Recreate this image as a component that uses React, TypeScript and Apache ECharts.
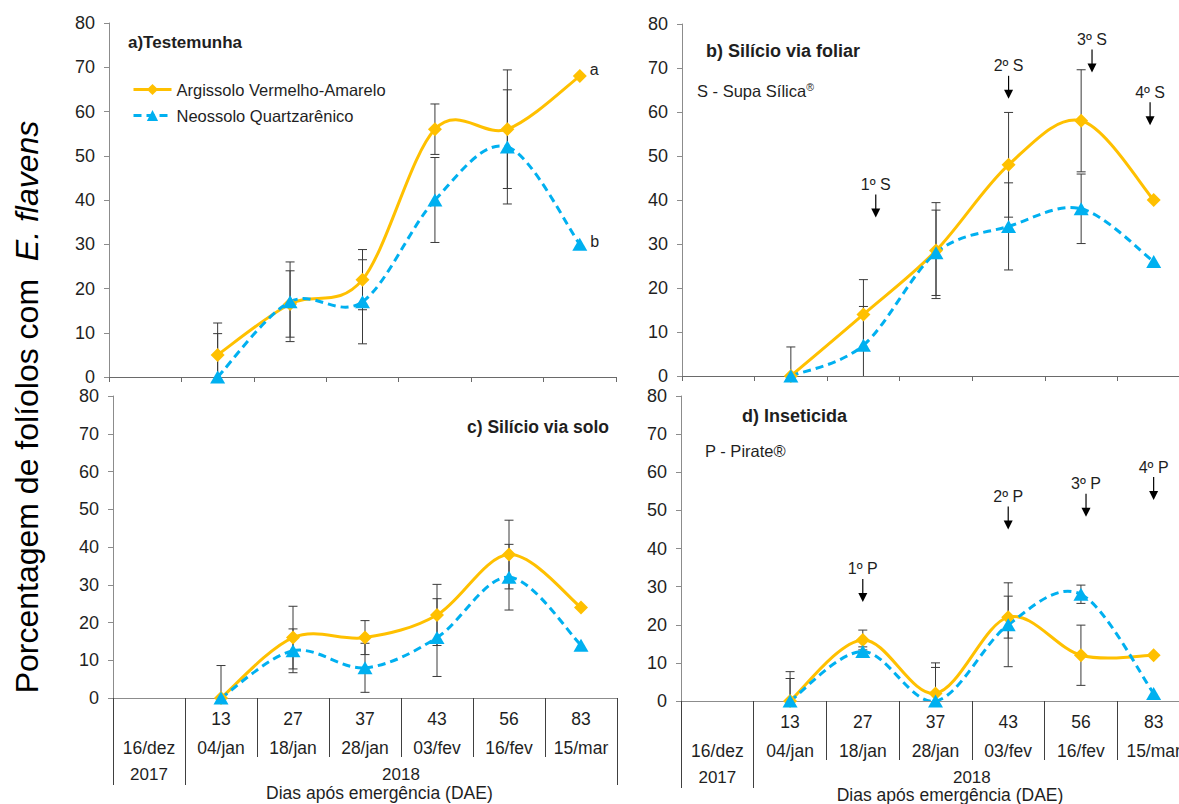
import React, { useEffect, useRef } from 'react';
import * as echarts from 'echarts';

// ---------- data ----------
const dates = ['16/dez', '04/jan', '18/jan', '28/jan', '03/fev', '16/fev', '15/mar'];
const daeLabels = ['', '13', '27', '37', '43', '56', '83'];
const yearLabels = ['2017', '2018'];
const seriesNames = ['Argissolo Vermelho-Amarelo', 'Neossolo Quartzarênico'];
const panelTitles = ['a)Testemunha', 'b) Silício via foliar', 'c) Silício via solo', 'd) Inseticida'];
const xAxisTitle = 'Dias após emergência (DAE)';
const endLetters = ['a', 'b'];

// panel a – Testemunha
const aArgissolo = [null, 5, 16.5, 22, 56, 56, 68];
const aArgissoloErr = [null, 7.2, 7.5, 6.8, 5.7, 13.4, null];
const aNeossolo = [null, 0, 17, 17, 40, 52, 30];
const aNeossoloErr = [null, 9.8, 9, 9.5, 9.6, 12.9, null];

// panel b – Silício via foliar
const bArgissolo = [null, 0, 14, 28.5, 48, 58, 40];
const bArgissoloErr = [null, 6.6, 7.9, 10.9, 11.9, 11.6, null];
const bNeossolo = [null, 0, 7, 28, 34, 38, 26];
const bNeossoloErr = [null, 0, 8.8, 9.7, 9.9, 7.9, null];

// panel c – Silício via solo
const cArgissolo = [null, 0, 16, 16, 22, 38, 24];
const cArgissoloErr = [null, 8.6, 8.3, 4.5, 8.1, 9.1, null];
const cNeossolo = [null, 0, 12.5, 8, 16, 32, 14];
const cNeossoloErr = [null, 0, 5.8, 6.5, 10.3, 8.7, null];

// panel d – Inseticida
const dArgissolo = [null, 0, 16, 2, 22, 12, 12];
const dArgissoloErr = [null, 7.7, 2.6, 8, 5.5, 7.9, null];
const dNeossolo = [null, 0, 13, 0, 20, 28, 2];
const dNeossoloErr = [null, 5.9, 1.2, 8.8, 11, 2.4, null];

// applications (arrows)
const bApplications = ['1º S', '2º S', '3º S', '4º S'];
const bApplicationAt = [2.17, 4, 5.15, 5.95];
const bApplicationTip = [36, 63, 69, 57];
const dApplications = ['1º P', '2º P', '3º P', '4º P'];
const dApplicationAt = [2, 4, 5.07, 6];
const dApplicationTip = [26, 45, 48.3, 52.7];

// ---------- style ----------
const FONT = 'Liberation Sans, Arial, Helvetica, sans-serif';
const ORANGE = '#FFC000';
const BLUE = '#00B0F0';
const AXIS_GRAY = '#8c8c8c';
const TEXT = '#1f1f1f';

const panels = [
  { ar: aArgissolo, arE: aArgissoloErr, ne: aNeossolo, neE: aNeossoloErr },
  { ar: bArgissolo, arE: bArgissoloErr, ne: bNeossolo, neE: bNeossoloErr },
  { ar: cArgissolo, arE: cArgissoloErr, ne: cNeossolo, neE: cNeossoloErr },
  { ar: dArgissolo, arE: dArgissoloErr, ne: dNeossolo, neE: dNeossoloErr },
];
const mainXAxis = [0, 1, 2, 4];

function curveSeries(values: (number | null)[], xi: number, yi: number, color: string, dashed: boolean) {
  const pts = values.map((v, i) => (v == null ? null : [i, v])).filter(Boolean) as number[][];
  return {
    type: 'custom',
    xAxisIndex: xi,
    yAxisIndex: yi,
    clip: true,
    silent: true,
    z: 2,
    data: pts,
    renderItem: (params: any, api: any) => {
      const i = params.dataIndex;
      const n = pts.length;
      if (i >= n - 1) return { type: 'group', children: [] };
      const P = (k: number) => api.coord(pts[Math.max(0, Math.min(n - 1, k))]);
      const p0 = P(i - 1), p1 = P(i), p2 = P(i + 1), p3 = P(i + 2);
      return {
        type: 'bezierCurve',
        shape: {
          x1: p1[0], y1: p1[1], x2: p2[0], y2: p2[1],
          cpx1: p1[0] + (p2[0] - p0[0]) / 6, cpy1: p1[1] + (p2[1] - p0[1]) / 6,
          cpx2: p2[0] - (p3[0] - p1[0]) / 6, cpy2: p2[1] - (p3[1] - p1[1]) / 6,
        },
        style: { stroke: color, lineWidth: 3, fill: 'none', lineDash: dashed ? [8, 5] : null },
      };
    },
  };
}

function errorSeries(values: (number | null)[], errs: (number | null)[], xi: number, yi: number) {
  const data = values
    .map((v, i) => (v == null || errs[i] == null || errs[i] === 0 ? null : [i, v, errs[i]]))
    .filter(Boolean) as number[][];
  return {
    type: 'custom',
    xAxisIndex: xi,
    yAxisIndex: yi,
    clip: true,
    silent: true,
    z: 1,
    data,
    renderItem: (params: any, api: any) => {
      const x = api.value(0), v = api.value(1), e = api.value(2);
      const top = api.coord([x, v + e]);
      const low = v - e;
      const bot = api.coord([x, Math.max(low, 0)]);
      const w = 4.5;
      const st = { stroke: '#3a3a3a', lineWidth: 1 };
      const children: any[] = [
        { type: 'line', shape: { x1: top[0], y1: top[1], x2: bot[0], y2: bot[1] }, style: st },
        { type: 'line', shape: { x1: top[0] - w, y1: top[1], x2: top[0] + w, y2: top[1] }, style: st },
      ];
      if (low >= 0) {
        children.push({ type: 'line', shape: { x1: bot[0] - w, y1: bot[1], x2: bot[0] + w, y2: bot[1] }, style: st });
      }
      return { type: 'group', children };
    },
  };
}

function markerSeries(values: (number | null)[], xi: number, yi: number, which: number, withLetter: boolean) {
  const color = which === 0 ? ORANGE : BLUE;
  const data = values.map((v, i) => {
    if (withLetter && i === values.length - 1) {
      return {
        value: v,
        label: {
          show: true, formatter: endLetters[which], position: 'right', distance: 3,
          offset: [0, which === 0 ? -7 : -3], fontSize: 16, color: TEXT, fontFamily: FONT,
        },
      };
    }
    return v;
  });
  return {
    type: 'line',
    name: seriesNames[which],
    xAxisIndex: xi,
    yAxisIndex: yi,
    data,
    symbol: which === 0 ? 'diamond' : 'triangle',
    symbolSize: which === 0 ? 14 : [15, 13],
    showSymbol: true,
    showAllSymbol: true,
    silent: true,
    z: 3,
    itemStyle: { color },
    lineStyle: { color, width: 3, opacity: 0, type: which === 0 ? 'solid' : [8, 5] },
  };
}

const App: React.FC = () => {
  const ref = useRef<HTMLDivElement>(null);

  useEffect(() => {
    if (!ref.current) return;
    const chart = echarts.init(ref.current, undefined, { renderer: 'svg' });

    const grids = [
      { left: 109, top: 23, width: 507, height: 354 },
      { left: 682, top: 24, width: 508, height: 352 },
      { left: 113, top: 396, width: 504, height: 302 },
      { left: 681, top: 396, width: 509, height: 305 },
    ];

    const topX = (gi: number) => ({
      type: 'category', gridIndex: gi, data: dates, boundaryGap: true, position: 'bottom',
      axisLine: { lineStyle: { color: '#6a6a6a', width: 1 } },
      axisTick: { show: true, length: 5, lineStyle: { color: '#6a6a6a' } },
      axisLabel: { show: false },
      splitLine: { show: false },
    });
    const tableX = (gi: number) => ({
      type: 'category', gridIndex: gi, data: dates, boundaryGap: true, position: 'bottom',
      axisLine: { lineStyle: { color: AXIS_GRAY, width: 1 } },
      axisTick: { show: true, length: 59, lineStyle: { color: '#404040', width: 1 } },
      axisLabel: {
        show: true, interval: 0, margin: 6, hideOverlap: false,
        formatter: (value: string, index: number) => `{d|${daeLabels[index] || ' '}}\n{t|${value}}`,
        rich: {
          d: { fontSize: 17.5, lineHeight: 29, color: TEXT, fontFamily: FONT },
          t: { fontSize: 17.5, lineHeight: 29, color: TEXT, fontFamily: FONT },
        },
      },
      splitLine: { show: false },
    });
    const yearX = (gi: number) => ({
      type: 'category', gridIndex: gi, data: dates, boundaryGap: true, position: 'bottom', offset: 0,
      axisLine: { show: false },
      axisTick: { show: true, length: 87, interval: (index: number) => index <= 1, lineStyle: { color: '#404040', width: 1 } },
      axisLabel: { show: false },
      splitLine: { show: false },
    });

    const yAxes = [0, 1, 2, 3].map((gi) => ({
      type: 'value', gridIndex: gi, min: 0, max: 80, interval: 10,
      axisLine: { show: true, lineStyle: { color: AXIS_GRAY, width: 1 } },
      axisTick: { show: true, length: 5, lineStyle: { color: AXIS_GRAY } },
      axisLabel: { fontSize: 18, color: TEXT, fontFamily: FONT, margin: 14 },
      splitLine: { show: false },
    }));

    const series: any[] = [];
    panels.forEach((p, pi) => {
      const xi = mainXAxis[pi];
      series.push(errorSeries(p.ar, p.arE, xi, pi));
      series.push(errorSeries(p.ne, p.neE, xi, pi));
      series.push(curveSeries(p.ar, xi, pi, ORANGE, false));
      series.push(curveSeries(p.ne, xi, pi, BLUE, true));
      series.push(markerSeries(p.ar, xi, pi, 0, pi === 0));
      series.push(markerSeries(p.ne, xi, pi, 1, pi === 0));
    });

    const option: any = {
      animation: false,
      backgroundColor: '#ffffff',
      textStyle: { fontFamily: FONT },
      grid: grids,
      xAxis: [topX(0), topX(1), tableX(2), yearX(2), tableX(3), yearX(3)],
      yAxis: yAxes,
      legend: {
        orient: 'vertical', left: 127, top: 76, itemWidth: 38, itemHeight: 14, itemGap: 9,
        selectedMode: false,
        textStyle: { fontSize: 16.5, color: TEXT, fontFamily: FONT },
        data: [
          { name: seriesNames[0], lineStyle: { opacity: 1, width: 3 } },
          { name: seriesNames[1], lineStyle: { opacity: 1, width: 3 } },
        ],
      },
      series,
    };
    chart.setOption(option);

    // ---------- annotations, positioned through the axes ----------
    const px = (gi: number, idx: number, val: number) => chart.convertToPixel({ gridIndex: gi } as any, [idx, val]) as number[];
    const at = (gi: number, pos: number, val: number) => {
      const base = Math.floor(pos);
      const p0 = px(gi, base, val);
      const slot = px(gi, 1, 0)[0] - px(gi, 0, 0)[0];
      return [p0[0] + (pos - base) * slot, p0[1]];
    };
    const txt = (x: number, y: number, text: string, size: number, extra: any = {}) => ({
      type: 'text', x, y, silent: true,
      style: {
        text, fontSize: size, fontFamily: FONT, fill: TEXT,
        align: extra.align || 'center', verticalAlign: 'middle',
        textAlign: extra.align || 'center', textVerticalAlign: 'middle',
        fontWeight: extra.bold ? 'bold' : 'normal',
        rich: extra.rich,
      },
    });

    const graphics: any[] = [];
    const arrows = (gi: number, labels: string[], atArr: number[], tips: number[]) => {
      labels.forEach((lab, k) => {
        const [cx, ty] = at(gi, atArr[k], tips[k]);
        const len = 23;
        graphics.push({ type: 'line', silent: true, shape: { x1: cx, y1: ty - len, x2: cx, y2: ty - 7 }, style: { stroke: '#000', lineWidth: 1.2 } });
        graphics.push({ type: 'polygon', silent: true, shape: { points: [[cx - 4.5, ty - 9], [cx + 4.5, ty - 9], [cx, ty]] }, style: { fill: '#000' } });
        graphics.push(txt(cx, ty - len - 10, lab, 16));
      });
    };
    arrows(1, bApplications, bApplicationAt, bApplicationTip);
    arrows(3, dApplications, dApplicationAt, dApplicationTip);

    // year row and axis title for the bottom panels
    [2, 3].forEach((gi) => {
      const y0 = px(gi, 0, 0)[1];
      const c0 = px(gi, 0, 0)[0];
      const c1 = px(gi, 1, 0)[0];
      const c6 = px(gi, 6, 0)[0];
      graphics.push(txt(c0, y0 + 76, yearLabels[0], 17));
      graphics.push(txt((c1 + c6) / 2, y0 + 76, yearLabels[1], 17));
      const tx = at(gi, 3.2, 0)[0];
      graphics.push(txt(tx, Math.min(y0 + 95, 795), xAxisTitle, 17.5));
    });

    // panel titles and product notes
    graphics.push(txt(128, 42, panelTitles[0], 17, { align: 'left', bold: true }));
    graphics.push(txt(706, 51, panelTitles[1], 18, { align: 'left', bold: true }));
    graphics.push(txt(467, 427, panelTitles[2], 17.5, { align: 'left', bold: true }));
    graphics.push(txt(742, 416, panelTitles[3], 18, { align: 'left', bold: true }));
    graphics.push(txt(697, 91, '{n|S - Supa Sílica}{s|®}', 16.5, {
      align: 'left',
      rich: {
        n: { fontSize: 16.5, fontFamily: FONT, color: TEXT, lineHeight: 20 },
        s: { fontSize: 10.5, fontFamily: FONT, color: TEXT, lineHeight: 20, verticalAlign: 'top', padding: [0, 0, 8, 0] },
      },
    }));
    graphics.push(txt(705, 451, 'P - Pirate®', 16.5, { align: 'left' }));

    // big y axis title
    graphics.push({
      type: 'text', x: 27, y: 407, rotation: Math.PI / 2, silent: true,
      style: {
        text: '{n|Porcentagem de folíolos com  }{i|E. flavens}',
        align: 'center', verticalAlign: 'middle', textAlign: 'center', textVerticalAlign: 'middle',
        rich: {
          n: { fontSize: 32, fontFamily: FONT, color: '#111' },
          i: { fontSize: 32, fontFamily: FONT, color: '#111', fontStyle: 'italic' },
        },
      },
    });

    chart.setOption({ graphic: { elements: graphics } });

    return () => {
      chart.dispose();
    };
  }, []);

  return (
    <div style={{ position: 'absolute', left: 0, top: 0, width: 1179, height: 804, overflow: 'hidden', background: '#fff' }}>
      <div ref={ref} style={{ width: 1200, height: 804 }} />
    </div>
  );
};

export default App;
